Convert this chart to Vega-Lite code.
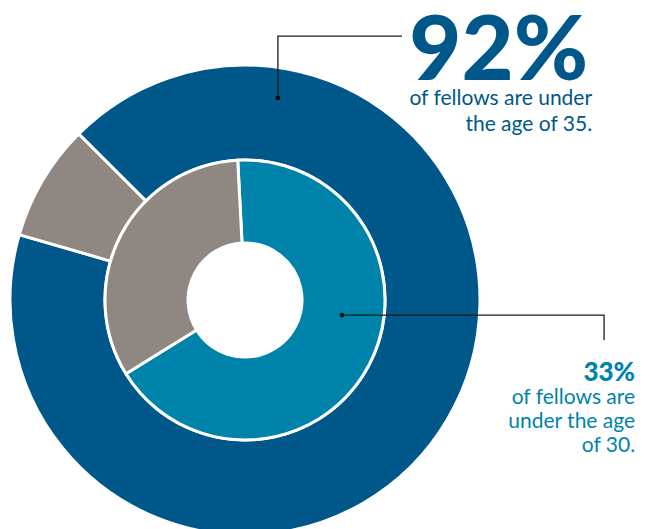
{
  "$schema": "https://vega.github.io/schema/vega-lite/v6.json",
  "width": 652,
  "height": 529,
  "padding": 0,
  "autosize": {"type": "none"},
  "background": "white",
  "config": {"view": {"stroke": null}, "axis": {"disable": true}},
  "datasets": {
    "rings": [
      {"ring": "outer", "group": "Under 35", "pct": 92, "ord": 1},
      {"ring": "outer", "group": "35 and over", "pct": 8, "ord": 2},
      {"ring": "inner", "group": "Under 30", "pct": 67, "ord": 1},
      {"ring": "inner", "group": "30 and over", "pct": 33, "ord": 2}
    ],
    "leaders": [
      {"id": "a", "step": 1, "u": 0.140, "v": 0.860},
      {"id": "a", "step": 2, "u": 0.140, "v": 1.123},
      {"id": "a", "step": 3, "u": 0.668, "v": 1.123},
      {"id": "b", "step": 1, "u": 0.413, "v": -0.064},
      {"id": "b", "step": 2, "u": 1.528, "v": -0.064},
      {"id": "b", "step": 3, "u": 1.528, "v": -0.170}
    ],
    "labels": [
      {"kind": "big35", "text": "92%", "u": 1.460, "v": 0.936},
      {"kind": "body35", "text": "of fellows are under", "u": 1.477, "v": 0.830},
      {"kind": "body35", "text": "the age of 35.", "u": 1.477, "v": 0.719},
      {"kind": "big30", "text": "33%", "u": 1.660, "v": -0.345},
      {"kind": "body30", "text": "of fellows are", "u": 1.660, "v": -0.443},
      {"kind": "body30", "text": "under the age", "u": 1.660, "v": -0.545},
      {"kind": "body30", "text": "of 30.", "u": 1.660, "v": -0.647}
    ]
  },
  "layer": [
    {
      "data": {"name": "rings"},
      "transform": [{"filter": "datum.ring === 'outer'"}],
      "mark": {"type": "arc", "radius": 235, "radius2": 140, "stroke": "white", "strokeWidth": 3},
      "encoding": {
        "x": {"datum": 0, "type": "quantitative", "scale": {"domain": [-1.0426, 1.7319], "nice": false, "zero": false}},
        "y": {"datum": 0, "type": "quantitative", "scale": {"domain": [-0.9745, 1.2766], "nice": false, "zero": false}},
        "theta": {"field": "pct", "type": "quantitative", "stack": true, "scale": {"type": "linear", "range": [5.497, 11.780]}},
        "order": {"field": "ord", "type": "quantitative"},
        "color": {"field": "group", "type": "nominal", "legend": null,
          "scale": {"domain": ["Under 35", "35 and over", "Under 30", "30 and over"], "range": ["#00578A", "#8E8782", "#0083AB", "#8E8782"]}}
      }
    },
    {
      "data": {"name": "rings"},
      "transform": [{"filter": "datum.ring === 'inner'"}],
      "mark": {"type": "arc", "radius": 140, "radius2": 57, "stroke": "white", "strokeWidth": 3},
      "encoding": {
        "x": {"datum": 0, "type": "quantitative"},
        "y": {"datum": 0, "type": "quantitative"},
        "theta": {"field": "pct", "type": "quantitative", "stack": true, "scale": {"type": "linear", "range": [-0.052, 6.231]}},
        "order": {"field": "ord", "type": "quantitative"},
        "color": {"field": "group", "type": "nominal", "legend": null}
      }
    },
    {
      "data": {"name": "leaders"},
      "mark": {"type": "line", "color": "#1a1a1a", "strokeWidth": 1.3, "interpolate": "linear"},
      "encoding": {
        "x": {"field": "u", "type": "quantitative"},
        "y": {"field": "v", "type": "quantitative"},
        "detail": {"field": "id"},
        "order": {"field": "step", "type": "quantitative"}
      }
    },
    {
      "data": {"name": "leaders"},
      "transform": [{"filter": "datum.step === 1"}],
      "mark": {"type": "circle", "color": "#111111", "size": 22, "opacity": 1},
      "encoding": {
        "x": {"field": "u", "type": "quantitative"},
        "y": {"field": "v", "type": "quantitative"}
      }
    },
    {
      "data": {"name": "labels"},
      "transform": [{"filter": "datum.kind === 'big35'"}],
      "mark": {"type": "text", "align": "right", "baseline": "alphabetic", "font": "Lato", "fontWeight": 900, "fontSize": 90, "color": "#00578A"},
      "encoding": {
        "x": {"field": "u", "type": "quantitative"},
        "y": {"field": "v", "type": "quantitative"},
        "text": {"field": "text"}
      }
    },
    {
      "data": {"name": "labels"},
      "transform": [{"filter": "datum.kind === 'body35'"}],
      "mark": {"type": "text", "align": "right", "baseline": "alphabetic", "font": "Lato", "fontSize": 21, "color": "#00578A"},
      "encoding": {
        "x": {"field": "u", "type": "quantitative"},
        "y": {"field": "v", "type": "quantitative"},
        "text": {"field": "text"}
      }
    },
    {
      "data": {"name": "labels"},
      "transform": [{"filter": "datum.kind === 'big30'"}],
      "mark": {"type": "text", "align": "right", "baseline": "alphabetic", "font": "Lato", "fontWeight": 900, "fontSize": 26, "color": "#0083AB"},
      "encoding": {
        "x": {"field": "u", "type": "quantitative"},
        "y": {"field": "v", "type": "quantitative"},
        "text": {"field": "text"}
      }
    },
    {
      "data": {"name": "labels"},
      "transform": [{"filter": "datum.kind === 'body30'"}],
      "mark": {"type": "text", "align": "right", "baseline": "alphabetic", "font": "Lato", "fontSize": 21, "color": "#0083AB"},
      "encoding": {
        "x": {"field": "u", "type": "quantitative"},
        "y": {"field": "v", "type": "quantitative"},
        "text": {"field": "text"}
      }
    }
  ],
  "resolve": {"scale": {"theta": "independent"}}
}
